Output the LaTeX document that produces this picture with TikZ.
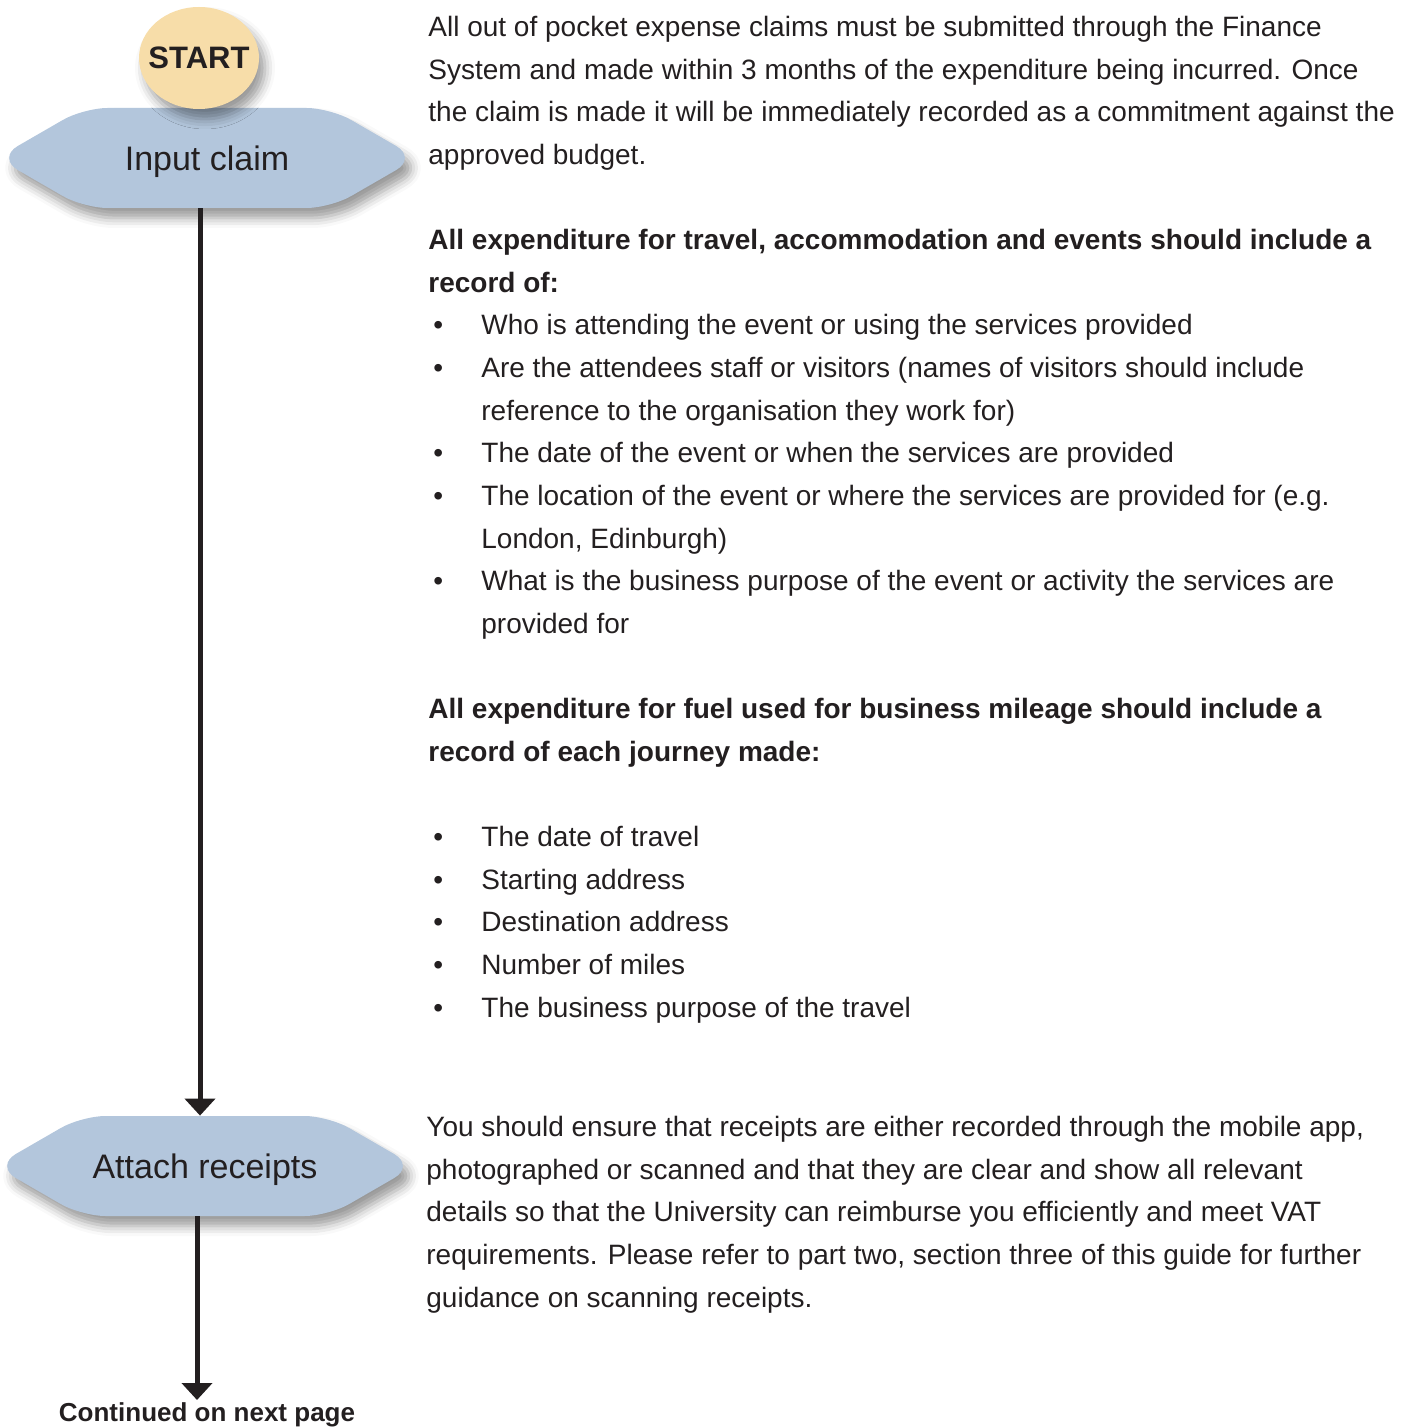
\documentclass[tikz,border=0pt]{standalone}
\usepackage{fontspec}
\setmainfont{Liberation Sans}
\usetikzlibrary{shapes.symbols, shapes.geometric, arrows.meta, shadows.blur}
\definecolor{claimblue}{HTML}{B3C6DC}
\definecolor{startyellow}{HTML}{F7DDA9}
\definecolor{inkgray}{HTML}{231F20}
\tikzset{>={Triangle[width=15pt, length=8.5pt]}}
\tikzset{
	softshadow/.style={blur shadow={shadow xshift=3pt, shadow yshift=-5pt, shadow blur radius=5pt, shadow opacity=40}},
	stepshape/.style={signal, signal to=west and east, signal pointer angle=60, minimum width=210pt, minimum height=50pt, inner xsep=0pt, text depth=0pt, rounded corners=12pt, fill=claimblue, text=inkgray, font=\fontsize{17pt}{20pt}\selectfont, softshadow},
	startshape/.style={ellipse, minimum width=60pt, minimum height=51pt, inner xsep=-4.5pt, inner ysep=0pt, text depth=0pt, fill=startyellow, text=inkgray, font=\bfseries\fontsize{15.5pt}{18pt}\selectfont, softshadow},
	bodytext/.style={anchor=north west, inner sep=0pt, align=left, text=inkgray, font=\fontsize{14pt}{21.32pt}\selectfont},
	flow/.style={->, line width=2.5pt, draw=inkgray, fill=inkgray}
}
\newcommand{\listdot}{\makebox[26.5pt][l]{\hspace{2.5pt}\textbullet}}
\newcommand{\listgap}{\hspace*{26.5pt}}

\begin{document}
\begin{tikzpicture}[x=0.5pt, y=-0.5pt]
	\useasboundingbox (0,0) rectangle (1413,1427);
	
	% Flow shapes
	\node[stepshape] (input) at (207,158) {Input claim};
	\node[startshape] (start) at (199,58) {START};
	\node[stepshape] (attach) at (205,1166) {Attach receipts};
	\node[inner sep=0pt, anchor=north, text=inkgray, font=\bfseries\fontsize{13pt}{15pt}\selectfont] (next) at (207,1402) {Continued on next page};
	
	% Flow arrows
	\draw[flow] ([xshift=-3.5pt]input.south) -- ([xshift=-2.5pt]attach.north);
	\draw[flow] ([xshift=-4pt]attach.south) -- ([xshift=-4pt, yshift=1pt]attach.south |- next.north);
	
	% Guidance text
	\node[bodytext] (claimtext) at (428,16) {All out of pocket expense claims must be submitted through the Finance\\System and made within 3 months of the expenditure being incurred. Once\\the claim is made it will be immediately recorded as a commitment against the\\approved budget.};
	
	\node[bodytext] (traveltext) at (428,229) {\textbf{All expenditure for travel, accommodation and events should include a}\\\textbf{record of:}\\\listdot Who is attending the event or using the services provided\\\listdot Are the attendees staff or visitors (names of visitors should include\\\listgap reference to the organisation they work for)\\\listdot The date of the event or when the services are provided\\\listdot The location of the event or where the services are provided for (e.g.\\\listgap London, Edinburgh)\\\listdot What is the business purpose of the event or activity the services are\\\listgap provided for};
	
	\node[bodytext] (fueltext) at (428,698) {\textbf{All expenditure for fuel used for business mileage should include a}\\\textbf{record of each journey made:}\\[21.32pt]\listdot The date of travel\\\listdot Starting address\\\listdot Destination address\\\listdot Number of miles\\\listdot The business purpose of the travel};
	
	\node[bodytext] (receipttext) at (426,1116) {You should ensure that receipts are either recorded through the mobile app,\\photographed or scanned and that they are clear and show all relevant\\details so that the University can reimburse you efficiently and meet VAT\\requirements. Please refer to part two, section three of this guide for further\\guidance on scanning receipts.};
\end{tikzpicture}
\end{document}
